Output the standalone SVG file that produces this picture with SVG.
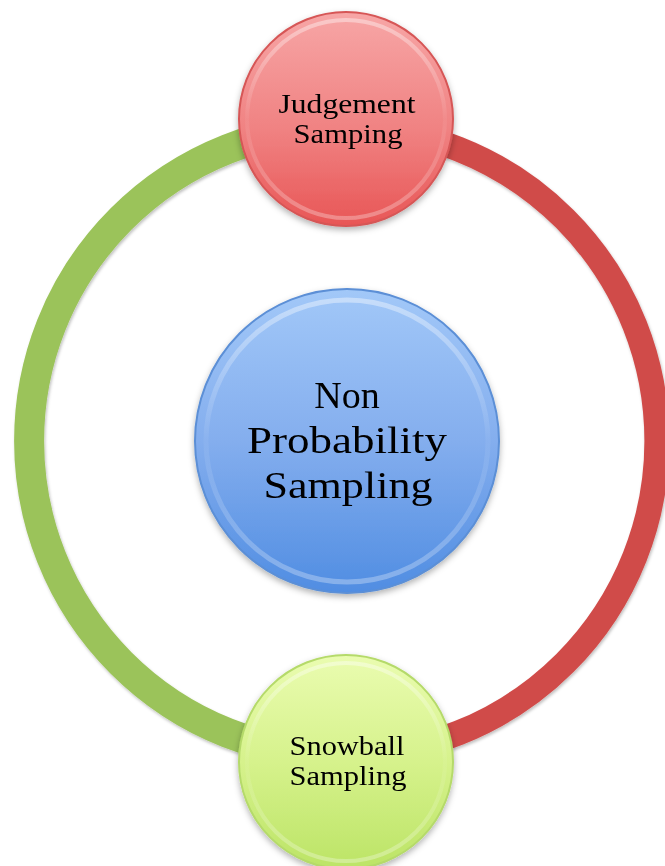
<svg xmlns="http://www.w3.org/2000/svg" width="665" height="866" viewBox="0 0 665 866">
<defs>
<style>
.lbl{font-family:"Liberation Serif","DejaVu Serif",serif;fill:#000;text-anchor:middle}
.s{font-size:27px}
.b{font-size:38px}
</style>
<filter id="sh" x="-20%" y="-20%" width="140%" height="150%">
<feDropShadow dx="0" dy="3" stdDeviation="3" flood-color="#000" flood-opacity="0.3"/>
</filter>
<filter id="rsh" x="-10%" y="-10%" width="120%" height="120%">
<feDropShadow dx="1" dy="2" stdDeviation="1.5" flood-color="#000" flood-opacity="0.25"/>
</filter>
<linearGradient id="gRed" x1="0" y1="0" x2="0" y2="1">
<stop offset="0" stop-color="#F7A6A6"/>
<stop offset="0.55" stop-color="#F08282"/>
<stop offset="1" stop-color="#E85656"/>
</linearGradient>
<linearGradient id="gBlue" x1="0" y1="0" x2="0" y2="1">
<stop offset="0" stop-color="#A2C8F8"/>
<stop offset="0.5" stop-color="#84AEEE"/>
<stop offset="1" stop-color="#508DE2"/>
</linearGradient>
<linearGradient id="gGreen" x1="0" y1="0" x2="0" y2="1">
<stop offset="0" stop-color="#EAFCB0"/>
<stop offset="0.5" stop-color="#D6F28C"/>
<stop offset="1" stop-color="#BCE466"/>
</linearGradient>
<linearGradient id="hi" x1="0" y1="0" x2="0" y2="1">
<stop offset="0" stop-color="#fff" stop-opacity="0.4"/>
<stop offset="0.5" stop-color="#fff" stop-opacity="0.05"/>
<stop offset="1" stop-color="#fff" stop-opacity="0.3"/>
</linearGradient>
</defs>

<g id="connectors" filter="url(#rsh)">
<path d="M 343 127 A 314 314 0 0 0 343 755" fill="none" stroke="#9BC35A" stroke-width="30"/>
<path d="M 343 127 A 314 314 0 0 1 343 755" fill="none" stroke="#D04C4A" stroke-width="25"/>
</g>

<g id="center" filter="url(#sh)">
<circle cx="347" cy="441" r="152" fill="url(#gBlue)" stroke="#5B8FD6" stroke-width="2"/>
<circle cx="347" cy="441" r="141" fill="none" stroke="url(#hi)" stroke-width="5"/>
<text class="lbl b" x="347" y="408">Non</text>
<text class="lbl b" x="347" y="453" textLength="200" lengthAdjust="spacingAndGlyphs">Probability</text>
<text class="lbl b" x="348" y="498" textLength="169" lengthAdjust="spacingAndGlyphs">Sampling</text>
</g>

<g id="judgement" filter="url(#sh)">
<circle cx="346" cy="119" r="107" fill="url(#gRed)" stroke="#D65656" stroke-width="2"/>
<circle cx="346" cy="119" r="99" fill="none" stroke="url(#hi)" stroke-width="4"/>
<text class="lbl s" x="347" y="113" textLength="137" lengthAdjust="spacingAndGlyphs">Judgement</text>
<text class="lbl s" x="348" y="143" textLength="109" lengthAdjust="spacingAndGlyphs">Samping</text>
</g>

<g id="snowball" filter="url(#sh)">
<circle cx="346" cy="762" r="107" fill="url(#gGreen)" stroke="#B5DA6A" stroke-width="2"/>
<circle cx="346" cy="762" r="99" fill="none" stroke="url(#hi)" stroke-width="4"/>
<text class="lbl s" x="347" y="755" textLength="115" lengthAdjust="spacingAndGlyphs">Snowball</text>
<text class="lbl s" x="348" y="785" textLength="117" lengthAdjust="spacingAndGlyphs">Sampling</text>
</g>
</svg>
